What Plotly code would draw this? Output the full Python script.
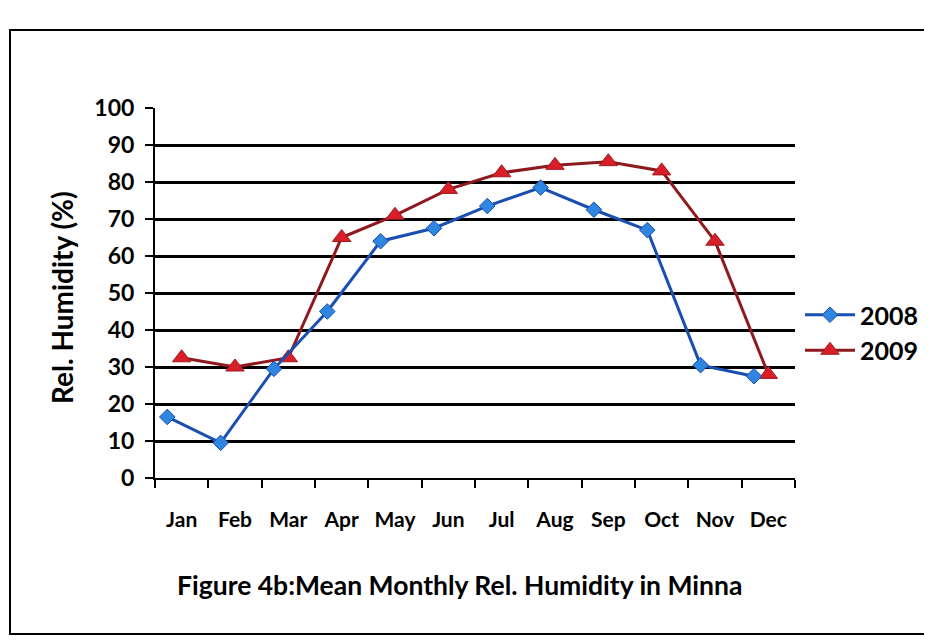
import plotly.graph_objects as go

months = ["Jan", "Feb", "Mar", "Apr", "May", "Jun", "Jul", "Aug", "Sep", "Oct", "Nov", "Dec"]
rh_2008 = [16.5, 9.5, 29.5, 45, 64, 67.5, 73.5, 78.5, 72.5, 67, 30.5, 27.5]
rh_2009 = [32.5, 30, 32.5, 65, 71, 78, 82.5, 84.5, 85.5, 83, 64, 28]
y_ticks = [0, 10, 20, 30, 40, 50, 60, 70, 80, 90, 100]

FONT = "Lato, 'Open Sans', sans-serif"
OFF = 8  # page body margin

# In the original the 2008 series sits on a secondary category axis that is
# shifted about a quarter of a category to the left.
SHIFT_2008 = 0.27
n = len(months)

fig = go.Figure()
fig.add_trace(go.Scatter(
    x=months, y=rh_2008, name="2008", mode="lines+markers", xaxis="x2",
    line=dict(color="#1a4fb0", width=3),
    marker=dict(symbol="diamond", size=12, color="#2f86e0", line=dict(color="#1a4fb0", width=1)),
))
fig.add_trace(go.Scatter(
    x=months, y=rh_2009, name="2009", mode="lines+markers", xaxis="x",
    line=dict(color="#8e1a1f", width=3),
    marker=dict(symbol="triangle-up", size=16, color="#d81e26", line=dict(color="#a01a20", width=1)),
))

L, R, T, B = 155 - OFF, 795 - OFF, 108 - OFF, 478 - OFF
W, H = R - L, B - T

def px_x(x):
    return (x - OFF - L) / W

def px_y(y):
    return (B - (y - OFF)) / H

fig.update_layout(
    width=932, height=642,
    margin=dict(l=L, r=932 - R, t=T, b=642 - B),
    paper_bgcolor="white", plot_bgcolor="white",
    font=dict(family=FONT, color="black"),
    showlegend=True,
    legend=dict(x=px_x(800), y=px_y(292), xanchor="left", yanchor="top",
                font=dict(size=25, family=FONT, color="black", weight="bold"),
                bgcolor="rgba(0,0,0,0)", tracegroupgap=0, itemwidth=50),
    xaxis=dict(
        type="category", categoryorder="array", categoryarray=months,
        range=[-0.5, n - 0.5],
        showline=True, linecolor="black", linewidth=2,
        ticks="outside", tickson="boundaries", ticklen=8, tickcolor="black", tickwidth=2,
        showgrid=False, ticklabelstandoff=22,
        tickfont=dict(size=21, family=FONT, color="black", weight="bold"),
    ),
    xaxis2=dict(
        type="category", categoryorder="array", categoryarray=months,
        range=[-0.5 + SHIFT_2008, n - 0.5 + SHIFT_2008],
        overlaying="x", visible=False, showgrid=False,
    ),
    yaxis=dict(
        range=[0, 100], tickvals=y_ticks, ticktext=[str(v) for v in y_ticks],
        showline=True, linecolor="black", linewidth=2,
        ticks="outside", ticklen=8, tickcolor="black", tickwidth=2,
        showgrid=True, gridcolor="black", gridwidth=2.5,
        ticklabelstandoff=6,
        tickfont=dict(size=23, family=FONT, color="black", weight="bold"),
        zeroline=False,
    ),
    shapes=[dict(type="rect", xref="paper", yref="paper",
                 x0=px_x(10), x1=px_x(925), y0=px_y(634), y1=px_y(30),
                 line=dict(color="black", width=2))],
    annotations=[
        dict(text="Rel. Humidity (%)", textangle=-90, xref="paper", yref="paper",
             x=px_x(62), y=px_y(298), xanchor="center", yanchor="middle", showarrow=False,
             font=dict(size=28, family=FONT, color="black", weight="bold")),
        dict(text="Figure 4b:Mean Monthly Rel. Humidity in Minna", xref="paper", yref="paper",
             x=px_x(459), y=px_y(585), xanchor="center", yanchor="middle", showarrow=False,
             font=dict(size=26.5, family=FONT, color="black", weight="bold")),
    ],
)

fig.write_html("out.html")
